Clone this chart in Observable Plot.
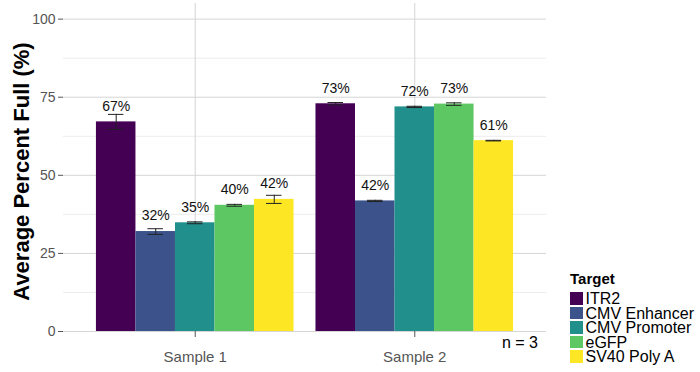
<!DOCTYPE html>
<html><head><meta charset="utf-8">
<script src="https://cdn.jsdelivr.net/npm/d3@7"></script>
<script src="https://cdn.jsdelivr.net/npm/@observablehq/plot@0.6"></script>
<style>
body{margin:0;background:#fff;font-family:"Liberation Sans",Arial,sans-serif;}
#wrap{position:relative;width:700px;height:372px;overflow:hidden;}
#wrap svg{position:absolute;left:0;top:0;}
[aria-label="y-axis label"] text, text[aria-label="y-axis label"]{font-size:22px;font-weight:700;fill:#000;}
#legend{position:absolute;left:570px;top:271px;color:#000;}
#legend .title{font-weight:700;font-size:15px;line-height:15px;height:21px;}
#legend .row{display:flex;align-items:flex-start;height:14.5px;}
#legend .sw{width:12.5px;height:12.5px;margin-right:3px;flex:none;}
#legend .lab{display:block;height:14.5px;font-size:16px;line-height:14.5px;white-space:nowrap;overflow:visible;}
#nlab{position:absolute;right:162px;top:334.6px;font-size:16px;line-height:16px;color:#000;}
</style></head><body><div id="wrap"></div>
<script>
const samples = ["Sample 1", "Sample 2"];
const targets = ["ITR2", "CMV Enhancer", "CMV Promoter", "eGFP", "SV40 Poly A"];
const colors = ["#440154", "#3B528B", "#21908C", "#5DC863", "#FDE725"];
const sample1Means = [67.1, 32.0, 34.8, 40.4, 42.3];
const sample1Errors = [2.4, 0.9, 0.3, 0.3, 1.3];
const sample2Means = [72.9, 41.8, 71.9, 72.8, 61.1];
const sample2Errors = [0.4, 0.2, 0.2, 0.4, 0.1];
const yTicks = [0, 25, 50, 75, 100];
const yMinor = [12.5, 37.5, 62.5, 87.5];
const yLabel = "Average Percent Full (%)";
const legendTitle = "Target";
const nLabel = "n = 3";

const means = [sample1Means, sample2Means];
const errors = [sample1Errors, sample2Errors];
const data = [];
samples.forEach((s, i) => targets.forEach((t, j) => data.push({sample: s, target: t, mean: means[i][j], err: errors[i][j]})));

const common = {
  width: 700, height: 372,
  marginLeft: 63, marginRight: 154, marginTop: 3, marginBottom: 41,
  style: {fontFamily: "Liberation Sans, Arial, sans-serif", background: "transparent"}
};
const yScale = {domain: [0, 105]};
const bandOpts = {type: "band", domain: samples, paddingInner: 0.1, paddingOuter: 0.15, round: false};

// Background layer: grid, axes
const back = Plot.plot({
  ...common,
  x: {...bandOpts, label: null},
  y: yScale,
  marks: [
    Plot.ruleY(yMinor, {stroke: "#ececec", strokeWidth: 1}),
    Plot.ruleY(yTicks, {stroke: "#d5d5d5", strokeWidth: 1}),
    Plot.gridX({stroke: "#d5d5d5", strokeOpacity: 1, strokeWidth: 1}),
    Plot.axisY({ticks: yTicks, tickSize: 5, tickPadding: 3, fontSize: 14, color: "#555", label: yLabel, labelAnchor: "center", labelOffset: 50, labelArrow: false}),
    Plot.axisX({anchor: "bottom", tickSize: 6, tickPadding: 14, fontSize: 15, color: "#555", label: null})
  ]
});

// Foreground layer: faceted bars
const front = Plot.plot({
  ...common,
  fx: {...bandOpts, axis: null, label: null},
  x: {domain: targets, padding: 0, round: false, axis: null},
  y: {...yScale, axis: null},
  color: {domain: targets, range: colors},
  marks: [
    Plot.barY(data, {fx: "sample", x: "target", y: "mean", fill: "target"}),
    Plot.ruleX(data, {fx: "sample", x: "target", y1: d => d.mean - d.err, y2: d => d.mean + d.err, stroke: "#222", strokeWidth: 1}),
    Plot.tickY(data, {fx: "sample", x: "target", y: d => d.mean - d.err, inset: 12, stroke: "#222", strokeWidth: 1}),
    Plot.tickY(data, {fx: "sample", x: "target", y: d => d.mean + d.err, inset: 12, stroke: "#222", strokeWidth: 1}),
    Plot.text(data, {fx: "sample", x: "target", y: d => d.mean + 5, text: d => Math.round(d.mean) + "%", fontSize: 14, fill: "#111"})
  ]
});

const wrap = document.getElementById("wrap");
wrap.appendChild(back);
wrap.appendChild(front);
d3.select(back).selectAll('[aria-label="y-axis label"] text').attr("dx", -4);

const legend = d3.select(wrap).append("div").attr("id", "legend");
legend.append("div").attr("class", "title").text(legendTitle);
targets.forEach((t, i) => {
  const row = legend.append("div").attr("class", "row");
  row.append("div").attr("class", "sw").style("background", colors[i]);
  row.append("span").attr("class", "lab").text(t);
});
d3.select(wrap).append("div").attr("id", "nlab").text(nLabel);
</script>
</body></html>
